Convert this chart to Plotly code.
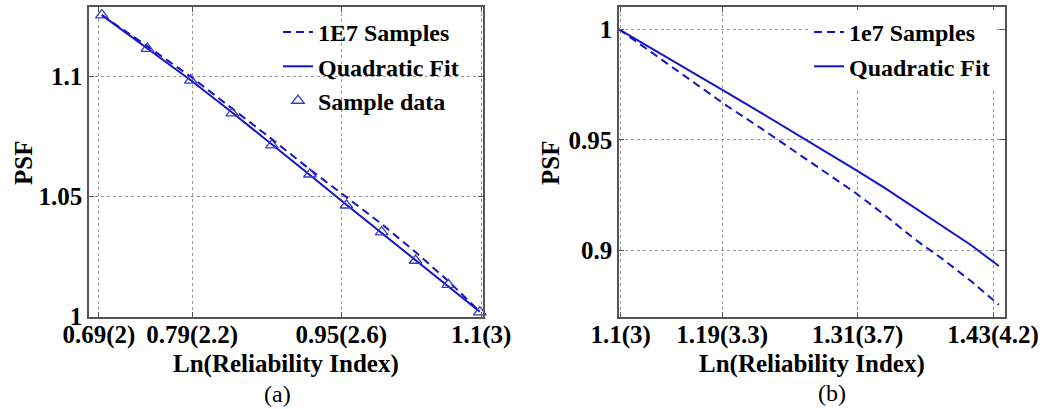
import plotly.graph_objects as go

# ---- panel (a) data ----
x_a = [0.6931, 0.7419, 0.7885, 0.8329, 0.8755, 0.9163, 0.9555, 0.9933, 1.0296, 1.0647, 1.0986]
samples_a = [1.1254, 1.1125, 1.0998, 1.0866, 1.0738, 1.0612, 1.0495, 1.0385, 1.0268, 1.0148, 1.0020]
fit_a = [1.1254, 1.1117, 1.0983, 1.0849, 1.0717, 1.0589, 1.0465, 1.0347, 1.0233, 1.0125, 1.0020]
data_a = [1.1254, 1.1115, 1.0983, 1.0846, 1.0713, 1.0592, 1.0463, 1.0351, 1.0233, 1.0133, 1.0018]
xtick_a = [0.69, 0.79, 0.95, 1.1]
xtext_a = ["0.69(2)", "0.79(2.2)", "0.95(2.6)", "1.1(3)"]
ytick_a = [1.0, 1.05, 1.1]
ytext_a = ["1", "1.05", "1.1"]

# ---- panel (b) data ----
x_b = [1.0986, 1.1314, 1.1632, 1.1939, 1.2238, 1.2528, 1.2809, 1.3083, 1.3350, 1.3610, 1.3863, 1.4110, 1.4351]
samples_b = [1.0, 0.988, 0.9765, 0.9655, 0.9555, 0.9455, 0.9355, 0.926, 0.9157, 0.905, 0.8958, 0.886, 0.8755]
fit_b = [1.0, 0.9903, 0.9808, 0.9715, 0.9625, 0.9537, 0.9450, 0.9365, 0.9280, 0.9192, 0.9110, 0.9023, 0.8930]
xtick_b = [1.1, 1.19, 1.31, 1.43]
xtext_b = ["1.1(3)", "1.19(3.3)", "1.31(3.7)", "1.43(4.2)"]
ytick_b = [0.9, 0.95, 1.0]
ytext_b = ["0.9", "0.95", "1"]

BLUE = "#1414c8"
FONT = "Liberation Serif"
W, H = 1053, 409
DASH = "8px,5px"

fig = go.Figure()

fig.add_trace(go.Scatter(x=x_a, y=samples_a, mode="lines", name="<b>1E7 Samples</b>",
                         line=dict(color=BLUE, width=2, dash=DASH), xaxis="x", yaxis="y", legend="legend"))
fig.add_trace(go.Scatter(x=x_a, y=fit_a, mode="lines", name="<b>Quadratic Fit</b>",
                         line=dict(color=BLUE, width=2), xaxis="x", yaxis="y", legend="legend"))
fig.add_trace(go.Scatter(x=x_a, y=data_a, mode="markers", name="<b>Sample data</b>",
                         marker=dict(symbol="triangle-up-open", size=11, color="#3a3ac8", line=dict(width=1.3)),
                         xaxis="x", yaxis="y", legend="legend", cliponaxis=False))

fig.add_trace(go.Scatter(x=x_b, y=samples_b, mode="lines", name="<b>1e7 Samples</b>",
                         line=dict(color=BLUE, width=2, dash=DASH), xaxis="x2", yaxis="y2", legend="legend2"))
fig.add_trace(go.Scatter(x=x_b, y=fit_b, mode="lines", name="<b>Quadratic Fit</b>",
                         line=dict(color=BLUE, width=2), xaxis="x2", yaxis="y2", legend="legend2"))

axis_common = dict(
    showline=True, linecolor="#555555", linewidth=1.5, mirror="allticks",
    ticks="inside", ticklen=5, tickcolor="#555555",
    showgrid=True, gridcolor="#9a9a9a", griddash="dot", gridwidth=1,
    zeroline=False, automargin=False,
    tickfont=dict(family=FONT, size=25, color="black", weight="bold"),
)

def px_x(p):
    return p / W

def px_y(p):
    return 1 - p / H

fig.update_layout(
    width=W, height=H,
    margin=dict(l=0, r=0, t=0, b=0, autoexpand=False),
    paper_bgcolor="white", plot_bgcolor="white",
    font=dict(family=FONT, color="black"),
    xaxis=dict(axis_common, domain=[px_x(89), px_x(483)], range=[0.6793, 1.102],
               tickvals=xtick_a, ticktext=xtext_a, anchor="y", ticklabelstandoff=-5),
    yaxis=dict(axis_common, domain=[px_y(316.5), px_y(7)], range=[1.0, 1.1288],
               tickvals=ytick_a, ticktext=ytext_a, anchor="x"),
    xaxis2=dict(axis_common, domain=[px_x(619), px_x(1005)], range=[1.0986, 1.4406],
                tickvals=xtick_b, ticktext=xtext_b, anchor="y2", ticklabelstandoff=-5),
    yaxis2=dict(axis_common, domain=[px_y(316.5), px_y(7)], range=[0.8702, 1.0101],
                tickvals=ytick_b, ticktext=ytext_b, anchor="x2"),
    legend=dict(x=px_x(278), y=px_y(10), xanchor="left", yanchor="top",
                bgcolor="rgba(255,255,255,0)", font=dict(family=FONT, size=24, color="black"),
                itemwidth=30, tracegroupgap=0),
    legend2=dict(x=px_x(809), y=px_y(10), xanchor="left", yanchor="top",
                 bgcolor="white", font=dict(family=FONT, size=24, color="black"),
                 itemwidth=30, tracegroupgap=0),
    showlegend=True,
)

title_font = dict(family=FONT, size=25, color="black")
labels = [
    ("<b>Ln(Reliability Index)</b>", 286, 364, 0, title_font),
    ("<b>Ln(Reliability Index)</b>", 812, 364, 0, title_font),
    ("<b>PSF</b>", 23, 163, -90, title_font),
    ("<b>PSF</b>", 550, 163, -90, title_font),
    ("(a)", 277, 394, 0, dict(family=FONT, size=24, color="black")),
    ("(b)", 832, 393, 0, dict(family=FONT, size=24, color="black")),
]
for text, lx, ly, ang, fnt in labels:
    fig.add_annotation(text=text, x=px_x(lx), y=px_y(ly), xref="paper", yref="paper",
                       xanchor="center", yanchor="middle", showarrow=False, textangle=ang, font=fnt)

# the default page has an 8px body margin; drop it so the figure sits at (0, 0)
fig.write_html("out.html", config={"displayModeBar": False},
               post_script="document.body.style.margin='0px';")
